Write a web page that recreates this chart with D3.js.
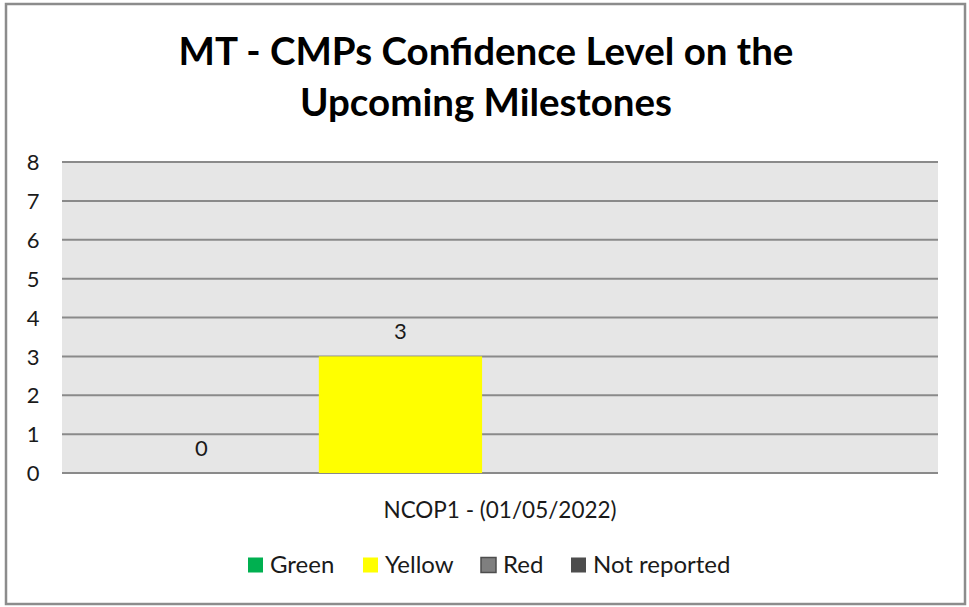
<!DOCTYPE html>
<html>
<head>
<meta charset="utf-8">
<script src="https://cdn.jsdelivr.net/npm/d3@7"></script>
<style>
  html, body { margin: 0; padding: 0; background: #ffffff; }
  svg { display: block; }
  text { font-family: Lato, "Open Sans", "Liberation Sans", sans-serif; }
</style>
</head>
<body>
<svg id="chart" width="969" height="607"></svg>
<script>
// Chart data
const titleLines = ["MT - CMPs Confidence Level on the", "Upcoming Milestones"];
const categories = ["NCOP1 - (01/05/2022)"];
const seriesNames = ["Green", "Yellow", "Red", "Not reported"];
const seriesColors = ["#00b050", "#ffff00", "#7f7f7f", "#4d4d4d"];
const greenValues = [0];
const yellowValues = [3];
const redValues = [null];
const notReportedValues = [null];
const yTicks = [0, 1, 2, 3, 4, 5, 6, 7, 8];

const seriesValues = [greenValues, yellowValues, redValues, notReportedValues];

const svg = d3.select("#chart");

// Outer chart border
svg.append("rect")
  .attr("x", 6).attr("y", 4)
  .attr("width", 959).attr("height", 600)
  .attr("fill", "#ffffff")
  .attr("stroke", "#8c8c8c")
  .attr("stroke-width", 2.5);

// Title
svg.append("g").selectAll("text")
  .data(titleLines)
  .join("text")
  .attr("x", 486)
  .attr("y", (d, i) => 65 + i * 51)
  .attr("text-anchor", "middle")
  .attr("font-size", 38.5)
  .attr("font-weight", "bold")
  .attr("fill", "#000000")
  .text(d => d);

// Plot area
const plot = { left: 62, right: 938, top: 162, bottom: 473 };

const y = d3.scaleLinear()
  .domain([0, 8])
  .range([plot.bottom, plot.top]);

const x0 = d3.scaleBand()
  .domain(categories)
  .range([plot.left, plot.right])
  .padding(0);

const x1 = d3.scaleBand()
  .domain(seriesNames)
  .range([0, x0.bandwidth()])
  .paddingInner(0.18)
  .paddingOuter(0.29);

svg.append("rect")
  .attr("x", plot.left).attr("y", plot.top)
  .attr("width", plot.right - plot.left)
  .attr("height", plot.bottom - plot.top)
  .attr("fill", "#e6e6e6");

// Gridlines
svg.append("g")
  .selectAll("line")
  .data(yTicks)
  .join("line")
  .attr("x1", plot.left).attr("x2", plot.right)
  .attr("y1", d => y(d)).attr("y2", d => y(d))
  .attr("stroke", "#8a8a8a")
  .attr("stroke-width", 2);

// Y axis labels
const yAxis = d3.axisLeft(y).tickValues(yTicks).tickSize(0).tickPadding(0).tickFormat(d3.format("d"));
const yAxisG = svg.append("g")
  .attr("transform", `translate(40,0)`)
  .call(yAxis);
yAxisG.select(".domain").remove();
yAxisG.selectAll("text")
  .attr("font-size", 22)
  .attr("fill", "#1a1a1a")
  .attr("text-anchor", "middle")
  .attr("x", -7)
  .attr("dy", "0.35em");

// Bars
const barData = [];
categories.forEach((c, ci) => {
  seriesNames.forEach((s, si) => {
    barData.push({ category: c, series: s, color: seriesColors[si], value: seriesValues[si][ci] });
  });
});
const shown = barData.filter(d => d.value !== null);

svg.append("g").selectAll("rect")
  .data(shown)
  .join("rect")
  .attr("x", d => x0(d.category) + x1(d.series))
  .attr("y", d => y(d.value))
  .attr("width", x1.bandwidth())
  .attr("height", d => y(0) - y(d.value))
  .attr("fill", d => d.color);

// Value labels
svg.append("g").selectAll("text")
  .data(shown)
  .join("text")
  .attr("x", d => x0(d.category) + x1(d.series) + x1.bandwidth() / 2)
  .attr("y", d => y(d.value) - 25)
  .attr("dy", "0.35em")
  .attr("text-anchor", "middle")
  .attr("font-size", 22)
  .attr("fill", "#1a1a1a")
  .text(d => d.value);

// Category axis label
const xAxis = d3.axisBottom(x0).tickSize(0).tickPadding(0);
const xAxisG = svg.append("g")
  .attr("transform", `translate(0,${plot.bottom})`)
  .call(xAxis);
xAxisG.select(".domain").remove();
xAxisG.selectAll("text")
  .attr("font-size", 22.5)
  .attr("fill", "#1a1a1a")
  .attr("y", 37)
  .attr("dy", "0.35em");

// Legend
const legendX = [248, 363, 481, 571];
const legend = svg.append("g").selectAll("g")
  .data(seriesNames)
  .join("g")
  .attr("transform", (d, i) => `translate(${legendX[i]},565)`);
legend.append("rect")
  .attr("x", 0).attr("y", -7.5)
  .attr("width", 15).attr("height", 15)
  .attr("fill", (d, i) => seriesColors[i])
  .attr("stroke", (d, i) => i === 2 ? "#4d4d4d" : "none")
  .attr("stroke-width", 1.5);
legend.append("text")
  .attr("x", 22)
  .attr("y", 0)
  .attr("dy", "0.35em")
  .attr("font-size", 24)
  .attr("fill", "#1a1a1a")
  .text(d => d);
</script>
</body>
</html>
